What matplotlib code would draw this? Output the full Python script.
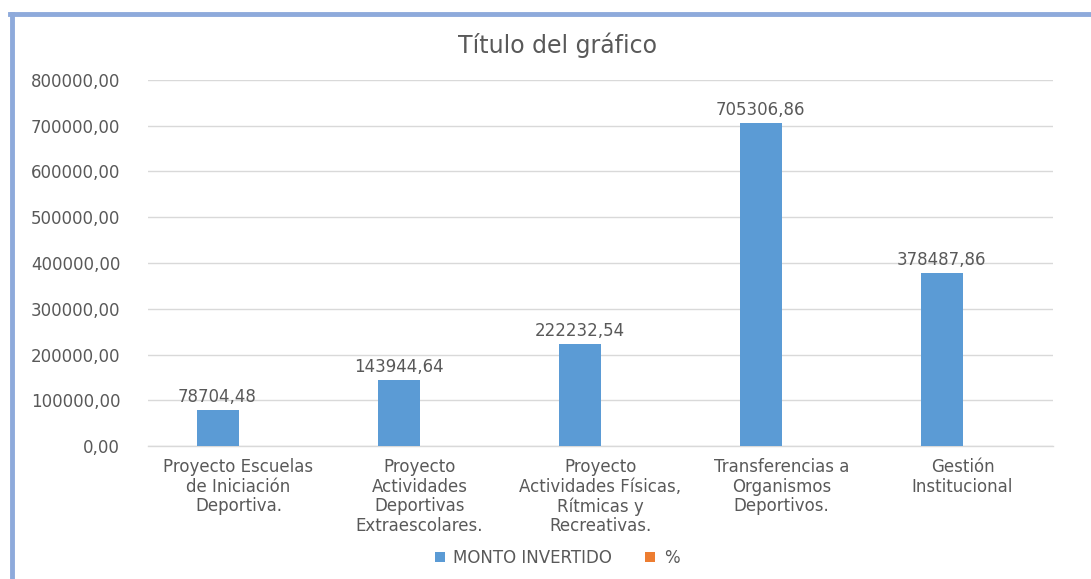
import numpy as np
import matplotlib.pyplot as plt
from matplotlib.lines import Line2D
from matplotlib.ticker import FuncFormatter

categories = [
    'Proyecto Escuelas\nde Iniciación\nDeportiva.',
    'Proyecto\nActividades\nDeportivas\nExtraescolares.',
    'Proyecto\nActividades Físicas,\nRítmicas y\nRecreativas.',
    'Transferencias a\nOrganismos\nDeportivos.',
    'Gestión\nInstitucional',
]
monto = [78704.48, 143944.64, 222232.54, 705306.86, 378487.86]
porcentaje = [0.05, 0.09, 0.15, 0.46, 0.25]
yticks = [0, 100000, 200000, 300000, 400000, 500000, 600000, 700000, 800000]

blue = '#5B9BD5'
orange = '#ED7D31'
text_col = '#595959'
grid_col = '#D9D9D9'

fig = plt.figure(figsize=(10.91, 5.79), dpi=100)
ax = fig.add_axes([148 / 1091, 1 - 446 / 579, 905 / 1091, 366 / 579])

x = np.arange(len(categories))
w = 0.232
ax.bar(x - w / 2, monto, width=w, color=blue, label='MONTO INVERTIDO', zorder=3)
ax.bar(x + w / 2, porcentaje, width=w, color=orange, label='%', zorder=3)

for xi, v in zip(x, monto):
    ax.text(xi - w / 2, v + 9000, f'{v:.2f}'.replace('.', ','), ha='center', va='bottom',
            fontsize=12, color=text_col)

ax.set_xlim(-0.5, len(categories) - 0.5)
ax.set_ylim(0, 800000)
ax.set_yticks(yticks)
ax.yaxis.set_major_formatter(FuncFormatter(lambda v, p: f'{v:.2f}'.replace('.', ',')))
ax.set_xticks(x)
ax.set_xticklabels(categories, linespacing=1.1, fontsize=12)
ax.tick_params(axis='both', length=0, labelsize=12, labelcolor=text_col)
ax.tick_params(axis='y', pad=20)
ax.tick_params(axis='x', pad=9)
ax.grid(axis='y', color=grid_col, linewidth=1, zorder=0)
for s in ['top', 'right', 'left']:
    ax.spines[s].set_visible(False)
ax.spines['bottom'].set_color(grid_col)
ax.spines['bottom'].set_linewidth(1)

fig.text(557 / 1091, 1 - 45 / 579, 'Título del gráfico', ha='center', va='center',
         fontsize=17, color=text_col)

fig.legend(loc='center', bbox_to_anchor=(557 / 1091, 1 - 558 / 579), ncol=2, frameon=False,
           fontsize=12, labelcolor=text_col, handlelength=0.6, handleheight=0.6,
           handletextpad=0.5, columnspacing=2.0)

# chart frame, only the top and left edges are visible in the crop
border = '#8EAADB'
fig.add_artist(Line2D([12 / 1091, 12 / 1091], [0, 1 - 14 / 579], color=border, linewidth=3.5,
                      transform=fig.transFigure))
fig.add_artist(Line2D([10 / 1091, 1], [1 - 14 / 579, 1 - 14 / 579], color=border, linewidth=3.5,
                      transform=fig.transFigure))

fig.savefig('out.png', dpi=100)
